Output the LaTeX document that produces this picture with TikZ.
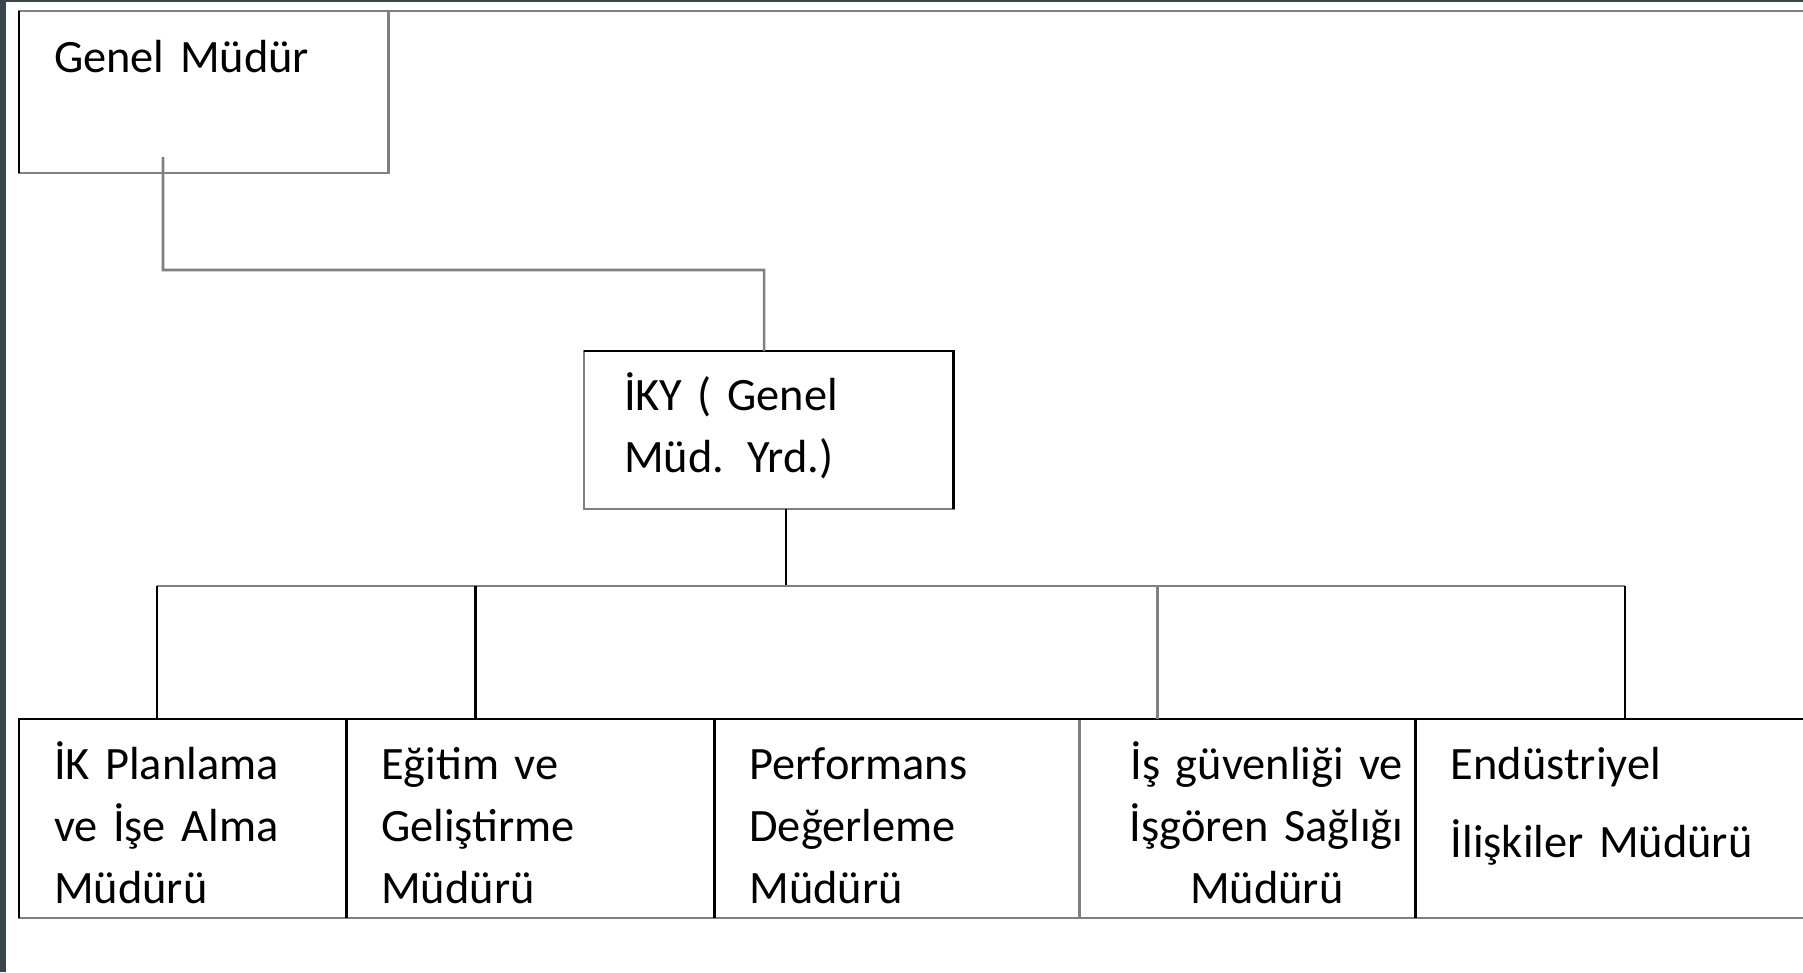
\documentclass[tikz,border=0pt]{standalone}
\usepackage{fontspec}
\setmainfont{Carlito}
\usetikzlibrary{positioning}
\definecolor{linegray}{RGB}{128,128,128}
\definecolor{framedark}{RGB}{55,71,79}
\newcommand{\indentline}{\hspace*{0.38cm}}

\begin{document}
\begin{tikzpicture}[x=0.01cm, y=-0.01cm,
	 orgbox/.style={rectangle, draw=linegray, line width=0.027cm, anchor=north west,
	   inner xsep=0.35cm, inner ysep=0pt, outer sep=0pt, align=left,
	   font=\fontsize{13.2}{17.64}\selectfont},
	 rowcell/.style={orgbox, text height=0.60cm, text depth=1.39cm},
	 grayedge/.style={draw=linegray, line width=0.027cm},
	 darkedge/.style={draw=black, line width=0.027cm}]
	    \useasboundingbox (0,0) rectangle (1803,972);
	    \fill[white] (0,0) rectangle (1803,972);
	    \fill[framedark] (0,0) rectangle (6,972);
	    \fill[framedark] (0,0) rectangle (1803,1.5);
	    % boxes
	    \node[orgbox, text width=2.99cm, text height=0.61cm, text depth=1.01cm] (gm) at (19,11) {Genel Müdür};
	    \node[orgbox, inner xsep=0.40cm, text width=2.89cm, text height=0.59cm, text depth=0.99cm] (iky) at (584,351) {İKY ( Genel\\Müd. Yrd.)};
	    \node[rowcell, text width=2.57cm] (ikp) at (19,719) {İK Planlama\\ve İşe Alma\\Müdürü};
	    \node[rowcell, text width=2.98cm, right=0pt of ikp] (egt) {Eğitim ve\\Geliştirme\\Müdürü};
	    \node[rowcell, text width=2.95cm, right=0pt of egt] (perf) {Performans\\Değerleme\\Müdürü};
	    \node[rowcell, inner xsep=0.05cm, text width=3.26cm, align=center, right=0pt of perf] (isg) {\indentline İş güvenliği ve\\\indentline İşgören Sağlığı\\\indentline Müdürü};
	    \node[rowcell, text width=3.30cm, right=0pt of isg] (ind) {Endüstriyel\\[0.16cm]İlişkiler Müdürü};
	    % darker edges
	    \coordinate (pageedge) at (1803,11);
	    \draw[grayedge] (gm.north east) -- (pageedge);
	    \draw[darkedge] (gm.north west) -- (gm.south west);
	    \draw[darkedge] (iky.north west) -- (iky.north east) -- (iky.south east);
	    \draw[darkedge] (ikp.south west) -- (ikp.north west) -- (ind.north east);
	    \draw[darkedge] (egt.north west) -- (egt.south west);
	    \draw[darkedge] (perf.north west) -- (perf.south west);
	    \draw[darkedge] (ind.north west) -- (ind.south west);
	    % connectors
	    \draw[grayedge] ([shift={(144,-16)}]gm.south west) |- ([shift={(-4.5,-81)}]iky.north) -- ([xshift=-0.045cm]iky.north);
	    \draw[darkedge] ([xshift=0.175cm]iky.south) -- ++(0,77);
	    \draw[grayedge] ([shift={(-25.5,-133)}]ikp.north) -- ([shift={(9,-133)}]ind.north);
	    \draw[darkedge] ([xshift=-0.255cm]ikp.north) -- ++(0,-133);
	    \draw[darkedge] ([xshift=-0.55cm]egt.north) -- ++(0,-133);
	    \draw[grayedge] ([xshift=-0.90cm]isg.north) -- ++(0,-133);
	    \draw[darkedge] ([xshift=0.09cm]ind.north) -- ++(0,-133);
\end{tikzpicture}
\end{document}
